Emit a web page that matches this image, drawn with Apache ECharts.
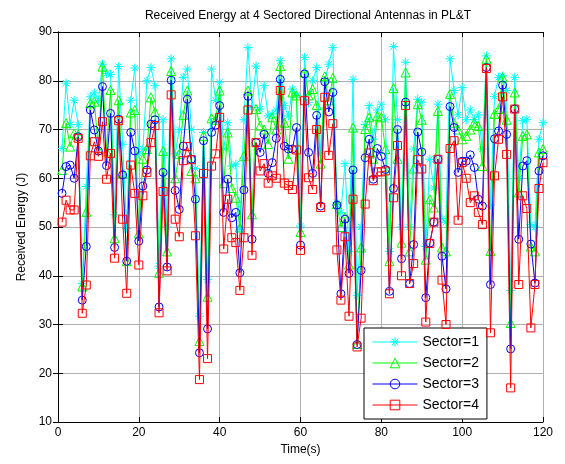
<!DOCTYPE html>
<html><head><meta charset="utf-8">
<script src="https://cdn.jsdelivr.net/npm/echarts@6/dist/echarts.min.js"></script>
<style>html,body{margin:0;padding:0;background:#fff}#c{width:565px;height:464px}</style>
</head><body><div id="c"></div>
<script>
var times = []; for (var i = 1; i <= 120; i++) times.push(i);
var sector1 = [66.1,79.5,71,76,71,38.4,58.3,76.7,77.5,76,83.4,81.5,81.3,52.5,82.9,67,49.7,76,82.6,65,
66,80,82.7,79,42,72,50,84.5,65,70,80.7,82.4,70,62,31.7,69.4,39.2,82.4,76,79.7,
66,71.4,62.5,62.9,49.5,72,86.8,74.5,83,74.2,79,72.8,73.2,74,84.1,74.9,72.8,78.3,77,50.2,
84.8,75.5,80,82.7,65,80,83.4,86.8,55,53,63,45,80.3,36,50,71,74.9,68,74,75.2,
72,45,87,72,50,83.8,50,66,76.2,75.6,46,63.9,58,75.2,51.7,51,84.5,78,73,78.6,
72,74,72,73,66,85.1,54.5,76.8,80.7,81,78,37,80.7,60,71.8,72.1,50.5,50,68,71.4];
var sector2 = [61.7,71.3,66.5,69.2,69,37.8,53.1,75.4,75.7,65.8,82.9,65.5,78.1,47.7,76,61,43,73.5,74,48.7,
64,66,76.6,73.6,40.6,65.6,45,82,60,65,73,78,61.5,60,26.6,68.7,35.7,72.3,72,78,
59,69.4,58,56,49.9,64.6,78,52.6,74.2,70.8,70,67,72.5,70,83,71.4,64,77.6,77,49,
81.7,77,78.3,75,63,80.9,76,80.6,54.7,50,52,42.3,70.4,26,45.8,70.1,72.5,64,72.8,72.5,
66,43,78.5,64,46.8,81.7,45,62,75.2,72,43.3,55.7,54,73.8,45.8,45,77.3,71.4,70,68,
68.7,70,71.4,70.7,62.5,84.5,45.1,73.2,74.2,80.7,72,30.3,77.6,57.1,68.7,69,46,45,65.3,66];
var sector3 = [56.9,62.4,62.7,60,68.5,35,46,74,69.9,65.6,78.8,62.6,73.3,45.8,72.1,60.7,43,69.4,65.6,47.1,
58.4,61.7,71.1,72,33.6,61.2,41.8,80.1,57.5,53.6,66.6,76.2,63.9,55.7,24.2,67.7,29.1,69.4,70.9,74.9,
53,59.8,51.9,53,40.6,57.6,76.8,47.5,67.3,65.3,69,61,63.2,68.2,80.3,66.6,66,66,70.4,46.3,
81.4,65.3,61,72.9,54.3,79.8,73.6,77.6,54.5,36.3,51.6,40.5,61.7,25.9,41.1,64.2,68,59.8,66.1,64.5,
61.8,36.8,57.9,70,43.5,75.6,38.4,46.4,69.5,65.4,35.5,46.7,51,63.9,44,37.3,74.7,70.4,61.2,63.5,
63.5,64.8,62.2,55.7,54.3,82.7,38.2,68.1,69.7,79.1,69,25,74.2,47.5,62.5,63.6,46.5,38.5,61.5,64.6];
var sector4 = [51,55.5,53.5,53.5,68.2,32.3,38.1,64.6,67.5,64.5,71.6,59.8,65.1,43.6,71.8,51.6,36.4,62.7,56.9,42.2,
56.4,61.2,67.3,70.8,32.4,57.3,41,77.1,51.6,48,63.6,66.5,63.8,48.2,18.7,61,23,62.5,65,72.5,
45.5,55.7,47.8,46.8,37,47.8,74,44.2,67.3,61.5,63,59,60.5,60,78,59,58.5,57.7,65.8,45.2,
75.9,60.1,57.7,70,54,76.6,64.7,71.2,45.3,35,48,31.7,55.7,25.4,31.3,54.7,65.2,59.5,61.3,61.3,
61.5,36.3,56,66.7,40,74.9,38.4,42.5,63.8,61.9,30.5,46.6,51,63.9,39.1,30,66.1,67.7,51.4,63.2,
60,55,56.4,53,50.5,82.5,28.3,60.5,68,76.7,64.9,17,74.2,38.2,56.4,53.8,29.3,38.2,57.9,63.2];
var seriesNames = ['Sector=1','Sector=2','Sector=3','Sector=4'];
var xTicks = [0,20,40,60,80,100,120];
var yTicks = [10,20,30,40,50,60,70,80,90];

var colors = ['#00ffff','#00ff00','#0000ff','#ff0000'];
var symbols = ['path://M0,-10L0,10M-10,0L10,0M-7,-7L7,7M-7,7L7,-7','triangle','circle','rect'];
var sizes = [9,9,8,8];
var all = [sector1, sector2, sector3, sector4];
function pairs(arr){ return arr.map(function(v,i){ return [times[i], v]; }); }

var chart = echarts.init(document.getElementById('c'), null, {renderer:'canvas'});
var font = 'Liberation Sans, Arial, Helvetica, sans-serif';
var series = all.map(function(arr, k){
  return {
    name: seriesNames[k], type:'line', data: pairs(arr),
    symbol: symbols[k], symbolSize: sizes[k], showSymbol:true,
    lineStyle:{color:colors[k], width:1},
    itemStyle:{color:'rgba(255,255,255,0)', borderColor:colors[k], borderWidth:1},
    emphasis:{disabled:true}, animation:false, z: 2+k
  };
});
var option = {
  animation:false,
  backgroundColor:'#fff',
  title:{text:'Received Energy at 4 Sectored Directional Antennas in PL&T', left:303, top:5, textAlign:'center',
    textStyle:{fontFamily:font, fontSize:12, fontWeight:'normal', color:'#000'}},
  grid:{left:58, top:32, width:485, height:390, containLabel:false},
  legend:{orient:'vertical', left:364, top:328, data:seriesNames, itemWidth:45, itemHeight:12, itemGap:7,
    padding:[7,8,7,8], backgroundColor:'#fff', borderColor:'#000', borderWidth:1, borderRadius:0,
    lineStyle:{width:1}, itemStyle:{borderWidth:1},
    textStyle:{fontFamily:font, fontSize:14, color:'#000'}, selectedMode:false},
  xAxis:[{type:'value', min:0, max:120, interval:20, position:'bottom', data: xTicks,
    name:'Time(s)', nameLocation:'middle', nameGap:22, nameTextStyle:{fontFamily:font, fontSize:12, color:'#000'},
    axisLine:{lineStyle:{color:'#000'}}, axisTick:{inside:true, length:5, lineStyle:{color:'#000'}},
    axisLabel:{fontFamily:font, fontSize:12, color:'#000', margin:5},
    splitLine:{show:true, lineStyle:{color:'#b0b0b0', type:'solid', width:1}}},
   {type:'value', min:0, max:120, interval:20, position:'top',
    axisLine:{show:true, lineStyle:{color:'#000'}}, axisTick:{show:true, inside:true, length:5, lineStyle:{color:'#000'}},
    axisLabel:{show:false}, splitLine:{show:false}}],
  yAxis:[{type:'value', min:10, max:90, interval:10, position:'left',
    name:'Received Energy (J)', nameLocation:'middle', nameGap:30, nameTextStyle:{fontFamily:font, fontSize:12, color:'#000'},
    axisLine:{show:true, lineStyle:{color:'#000'}}, axisTick:{show:true, inside:true, length:5, lineStyle:{color:'#000'}},
    axisLabel:{fontFamily:font, fontSize:12, color:'#000', margin:6},
    splitLine:{show:true, lineStyle:{color:'#b0b0b0', type:'solid', width:1}}},
   {type:'value', min:10, max:90, interval:10, position:'right',
    axisLine:{show:true, lineStyle:{color:'#000'}}, axisTick:{show:true, inside:true, length:5, lineStyle:{color:'#000'}},
    axisLabel:{show:false}, splitLine:{show:false}}],
  series: series
};
chart.setOption(option);
</script></body></html>
